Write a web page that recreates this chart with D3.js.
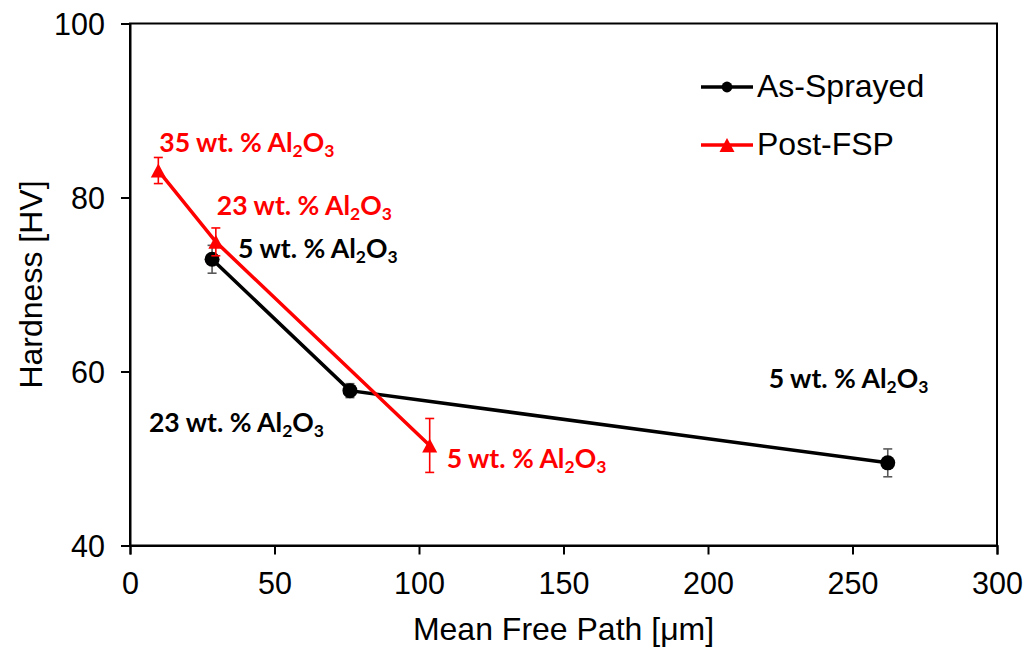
<!DOCTYPE html>
<html>
<head>
<meta charset="utf-8">
<script src="https://cdn.jsdelivr.net/npm/d3@7"></script>
<style>
  html, body { margin: 0; padding: 0; background: #fff; }
  svg { display: block; }
</style>
</head>
<body>
<svg id="chart" width="1029" height="650"></svg>
<script>
// Hardness vs. mean free path
const seriesNames = ["As-Sprayed", "Post-FSP"];

const asSprayedPath = [28.4, 76.1, 262.2];
const asSprayedHardness = [72.9, 57.8, 49.5];
const asSprayedErr = [1.6, 0.8, 1.6];
const asSprayedLabels = ["5", "23", "5"];

const postFspPath = [9.8, 29.7, 103.7];
const postFspHardness = [83.1, 74.9, 51.5];
const postFspErr = [1.5, 1.6, 3.1];
const postFspLabels = ["35", "23", "5"];

const xTicks = [0, 50, 100, 150, 200, 250, 300];
const yTicks = [40, 60, 80, 100];

// label placement, in pixels relative to each point (left edge, baseline)
const asSprayedLabelOffset = [[26, -1], [-201, 41], [-119, -75]];
const postFspLabelOffset = [[1, -18.5], [1, -27], [17, 23]];

const W = 1029, H = 650;
const margin = { left: 130, right: 32, top: 23.5, bottom: 104.5 };
const svg = d3.select("#chart");

const x = d3.scaleLinear().domain([0, 300]).range([margin.left, W - margin.right]);
const y = d3.scaleLinear().domain([40, 100]).range([H - margin.bottom, margin.top]);

const axisFont = "Liberation Sans, Arial, sans-serif";
const labelFont = "Lato, Carlito, Calibri, sans-serif";

// frame
svg.append("rect")
  .attr("x", x(0)).attr("y", y(100))
  .attr("width", x(300) - x(0)).attr("height", y(40) - y(100))
  .attr("fill", "none").attr("stroke", "#000").attr("stroke-width", 2);

const xAxis = svg.append("g")
  .attr("transform", `translate(0,${y(40)})`)
  .call(d3.axisBottom(x).tickValues(xTicks).tickSize(9).tickPadding(18).tickFormat(d3.format("d")));
const yAxis = svg.append("g")
  .attr("transform", `translate(${x(0)},0)`)
  .call(d3.axisLeft(y).tickValues(yTicks).tickSize(9).tickPadding(16).tickFormat(d3.format("d")));

[xAxis, yAxis].forEach(g => {
  g.select(".domain").attr("stroke", "#000").attr("stroke-width", 2);
  g.selectAll(".tick line").attr("stroke", "#000").attr("stroke-width", 2);
  g.selectAll(".tick text").attr("fill", "#000")
    .style("font-family", axisFont).style("font-size", "30.5px");
});
yAxis.selectAll(".tick text").attr("dy", "0.35em");

// axis titles
svg.append("text")
  .attr("x", (x(0) + x(300)) / 2).attr("y", 640)
  .attr("text-anchor", "middle")
  .style("font-family", axisFont).style("font-size", "32px")
  .text("Mean Free Path [μm]");
svg.append("text")
  .attr("transform", `translate(41.5,${(y(40) + y(100)) / 2}) rotate(-90)`)
  .attr("text-anchor", "middle")
  .style("font-family", axisFont).style("font-size", "32px")
  .text("Hardness [HV]");

const series = [
  { name: seriesNames[0], color: "#000", errColor: "#595959", marker: "circle",
    pts: asSprayedPath.map((v, i) => ({ x: v, y: asSprayedHardness[i], e: asSprayedErr[i], lab: asSprayedLabels[i], off: asSprayedLabelOffset[i] })) },
  { name: seriesNames[1], color: "#ff0000", errColor: "#ff0000", marker: "triangle",
    pts: postFspPath.map((v, i) => ({ x: v, y: postFspHardness[i], e: postFspErr[i], lab: postFspLabels[i], off: postFspLabelOffset[i] })) }
];

const line = d3.line().x(d => x(d.x)).y(d => y(d.y));

function drawMarker(g, s, px, py, scale) {
  if (s.marker === "circle") {
    g.append("circle").attr("cx", px).attr("cy", py).attr("r", 7.5 * scale).attr("fill", s.color);
  } else {
    const hw = 7.5 * scale, hh = 7 * scale;
    g.append("path")
      .attr("d", `M${px},${py - hh}L${px + hw},${py + hh}L${px - hw},${py + hh}Z`)
      .attr("fill", s.color);
  }
}

series.forEach(s => {
  const g = svg.append("g");
  // error bars
  s.pts.forEach(p => {
    const eg = g.append("g").attr("stroke", s.errColor).attr("stroke-width", 1.6);
    eg.append("line").attr("x1", x(p.x)).attr("x2", x(p.x)).attr("y1", y(p.y - p.e)).attr("y2", y(p.y + p.e));
    [p.y - p.e, p.y + p.e].forEach(v => {
      eg.append("line").attr("x1", x(p.x) - 4.5).attr("x2", x(p.x) + 4.5).attr("y1", y(v)).attr("y2", y(v));
    });
  });
  g.append("path").datum(s.pts).attr("d", line)
    .attr("fill", "none").attr("stroke", s.color).attr("stroke-width", 3.5);
  s.pts.forEach(p => drawMarker(g, s, x(p.x), y(p.y), 1));
});

// composition labels
series.forEach(s => {
  s.pts.forEach(p => {
    const t = svg.append("text")
      .attr("x", x(p.x) + p.off[0]).attr("y", y(p.y) + p.off[1])
      .attr("fill", s.color)
      .style("font-family", labelFont).style("font-weight", "700").style("font-size", "26.6px");
    t.append("tspan").text(p.lab + " wt. % Al");
    t.append("tspan").attr("dy", 5).style("font-size", "17.5px").text("2");
    t.append("tspan").attr("dy", -5).text("O");
    t.append("tspan").attr("dy", 5).style("font-size", "17.5px").text("3");
  });
});

// legend
const legend = svg.append("g");
series.forEach((s, i) => {
  const ly = 87 + i * 58;
  legend.append("line").attr("x1", 701).attr("x2", 753).attr("y1", ly).attr("y2", ly)
    .attr("stroke", s.color).attr("stroke-width", 3.5);
  drawMarker(legend, s, 727, ly, s.marker === "circle" ? 0.72 : 1);
  legend.append("text").attr("x", 757).attr("y", ly + 10)
    .style("font-family", axisFont).style("font-size", "32px").attr("fill", "#000")
    .text(s.name);
});
</script>
</body>
</html>
